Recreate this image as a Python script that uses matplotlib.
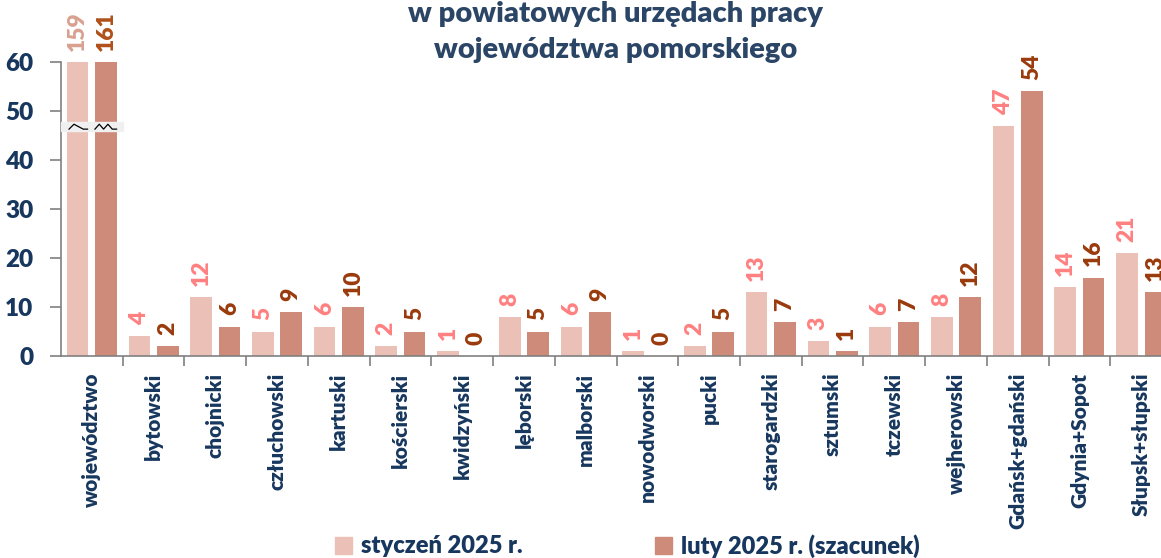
import numpy as np
import matplotlib
matplotlib.use("Agg")
import matplotlib.pyplot as plt
from matplotlib.patches import Patch, Rectangle

plt.rcParams['font.family'] = ['Lato', 'DejaVu Sans']

#%% data
powiaty = ["województwo", "bytowski", "chojnicki", "człuchowski", "kartuski",
           "kościerski", "kwidzyński", "lęborski", "malborski", "nowodworski",
           "pucki", "starogardzki", "sztumski", "tczewski", "wejherowski",
           "Gdańsk+gdański", "Gdynia+Sopot", "Słupsk+słupski"]
styczen = [159, 4, 12, 5, 6, 2, 1, 8, 6, 1, 2, 13, 3, 6, 8, 47, 14, 21]
luty = [161, 2, 6, 9, 10, 5, 0, 5, 9, 0, 5, 7, 1, 7, 12, 54, 16, 13]
seria1 = "styczeń 2025 r."
seria2 = "luty 2025 r. (szacunek)"
ymax = 60

#%% colours
c_jasny = "#EBC1B7"
c_ciemny = "#CF8B7A"
navy = "#17375E"
tytul_kolor = "#2A4565"
waga = "heavy"

fig = plt.figure(figsize=(11.61, 5.58), dpi=100)
ax = fig.add_axes([61/1161, 202/558, 1111/1161, 294/558])

x = np.arange(len(powiaty))
w = 0.35
off = 0.23
y1 = np.minimum(styczen, ymax)
y2 = np.minimum(luty, ymax)
ax.bar(x - off, y1, w, color=c_jasny)
ax.bar(x + off, y2, w, color=c_ciemny)

# value labels
for i in range(len(powiaty)):
    k1 = "#D9A090" if styczen[i] > ymax else "#FF8080"
    k2 = "#B0501A" if luty[i] > ymax else "#9A3A0C"
    ax.annotate(str(styczen[i]), (x[i] - off, y1[i]), xytext=(0, 8),
                textcoords="offset points", rotation=90, ha="center", va="bottom",
                fontsize=16.5, fontweight=waga, color=k1, annotation_clip=False)
    ax.annotate(str(luty[i]), (x[i] + off, y2[i]), xytext=(0, 8),
                textcoords="offset points", rotation=90, ha="center", va="bottom",
                fontsize=16.5, fontweight=waga, color=k2, annotation_clip=False)

# axis break on the first group
ax.add_patch(Rectangle((-0.5, 45.9), 1.0, 1.8, color="#F0F0F0", zorder=3, clip_on=False))
zx = np.array([-0.35, -0.27, -0.12, -0.05])
zy = np.array([46.3, 47.3, 46.3, 46.3])
ax.plot(zx - 0.02, zy, color="black", lw=0.9, zorder=4)
zx2 = np.array([0.05, 0.12, 0.19, 0.26, 0.33, 0.40])
zy2 = np.array([46.3, 47.3, 46.3, 47.3, 46.3, 46.3])
ax.plot(zx2, zy2, color="black", lw=0.9, zorder=4)

ax.set_xlim(-0.5, len(powiaty) - 0.5)
ax.set_ylim(0, ymax)
ax.set_yticks(range(0, 61, 10))
ax.set_yticklabels([str(v) for v in range(0, 61, 10)], fontsize=17.5,
                   fontweight=waga, color=navy)
ax.set_xticks(x)
ax.set_xticklabels(powiaty, rotation=90, fontsize=15, fontweight=waga, color=navy)
ax.set_xticks(np.arange(0.5, len(powiaty) - 0.5), minor=True)
ax.tick_params(axis="x", which="major", length=0, pad=12)
ax.tick_params(axis="x", which="minor", length=7, color="#808080", width=1.2)
ax.tick_params(axis="y", length=8, color="#808080", width=1.2, pad=12)
for s in ["top", "right"]:
    ax.spines[s].set_visible(False)
for s in ["left", "bottom"]:
    ax.spines[s].set_color("#808080")
    ax.spines[s].set_linewidth(1.2)

fig.text(0.53, 0.975, "w powiatowych urzędach pracy", ha="center", va="center",
         fontsize=21, fontweight=waga, color=tytul_kolor)
fig.text(0.53, 0.91, "województwa pomorskiego", ha="center", va="center",
         fontsize=21, fontweight=waga, color=tytul_kolor)

fig.legend(handles=[Patch(color=c_jasny, label=seria1), Patch(color=c_ciemny, label=seria2)],
           loc="center", bbox_to_anchor=(0.54, 0.022), ncol=2, frameon=False,
           handlelength=0.75, handleheight=0.75, handletextpad=0.35, columnspacing=5.6,
           prop={"size": 17, "weight": waga}, labelcolor=navy)

fig.savefig("out.png", dpi=100)
